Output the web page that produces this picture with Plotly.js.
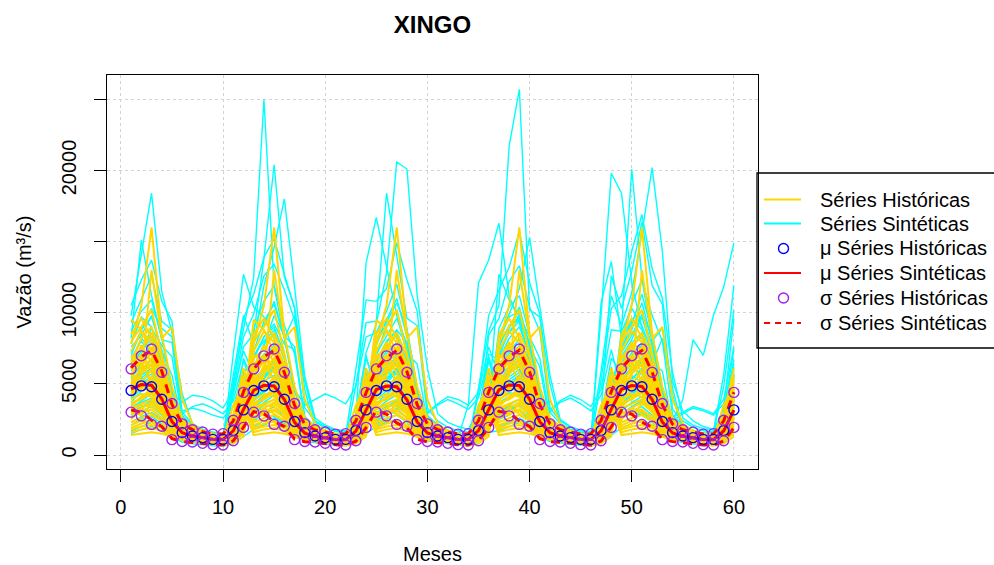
<!DOCTYPE html>
<html><head><meta charset="utf-8">
<script src="https://cdn.plot.ly/plotly-3.0.1.min.js"></script>
<style>body{margin:0;background:#fff}#chart{width:994px;height:565px}</style>
</head><body><div id="chart"></div>
<script>
// ---------------- DATA ----------------
const months = [1,2,3,4,5,6,7,8,9,10,11,12,13,14,15,16,17,18,19,20,21,22,23,24,25,26,27,28,29,30,
  31,32,33,34,35,36,37,38,39,40,41,42,43,44,45,46,47,48,49,50,51,52,53,54,55,56,57,58,59,60];
const xTicks = [0,10,20,30,40,50,60];
const yTicks = [0,5000,10000,15000,20000,25000];
const yTickText = ['0','5000','10000','','20000',''];

// historical record, one row per year (months 1..12); each gold trace = 5 consecutive years
const histYears = [
  [6500,8200,9000,6800,3600,2100,1700,1500,1300,1250,1900,4200],
  [4200,5100,6000,5200,3000,1900,1600,1400,1250,1200,1700,3300],
  [9500,8800,7200,5100,3100,2000,1650,1450,1300,1250,2100,5200],
  [3200,3500,3400,2900,1900,1400,1250,1100,1000,1000,1400,2500],
  [5600,6900,5800,4600,2700,1800,1500,1350,1200,1150,1800,3600],
  [2100,2400,2300,2000,1500,1200,1100,1000,950,900,1200,1900],
  [8500,9600,8200,6300,3800,2400,1900,1600,1400,1350,2800,6100],
  [3900,4300,4100,3300,2100,1500,1300,1200,1050,1050,1500,2800],
  [5200,4600,5500,4400,2500,1700,1450,1300,1150,1100,3500,4800],
  [1600,1800,1900,1700,1300,1100,1000,900,850,800,1000,1500],
  [7800,10500,16000,8500,4800,2600,2000,1700,1500,1400,2400,5600],
  [4700,6300,7600,5900,3400,2100,1700,1500,1300,1300,1600,3000],
  [3000,2800,3600,3100,2000,1500,1300,1150,1050,1000,1300,2200],
  [6100,7700,6500,4900,2900,1900,1550,1400,1250,1200,2000,4400],
  [2500,3300,2900,2400,1600,1300,1150,1050,950,950,1250,2000],
  [4400,5600,13000,8200,9000,3900,2200,1700,1450,1350,1700,3400],
  [1400,1500,1600,1500,1250,1050,950,850,700,650,800,1300],
  [5800,4900,4300,3500,2200,1600,1350,1250,1100,1100,1900,3900],
  [3600,4000,4700,3800,2300,1600,1400,1250,1100,1050,1350,2600],
  [7000,6600,5100,3700,2400,1700,1450,1300,1150,1150,2300,4600],
  [1800,2000,2100,1900,1400,1150,1050,950,850,850,1100,1600],
  [4900,5300,4800,3900,2300,1600,1350,1200,1100,1050,1600,3100],
  [2700,3000,3200,2600,1700,1300,1150,1050,950,900,1250,2300],
  [6800,7400,8600,6900,3900,2300,1800,1550,1350,1300,2200,5300],
  [3400,4100,4500,3700,2200,1500,1300,1150,1050,1000,1500,2900],
  [5300,5900,6800,5400,3100,1900,1550,1350,1200,1150,1900,3800],
  [2300,2600,2800,2400,1600,1250,1100,1000,900,880,1150,1800],
  [6000,6500,7100,5700,3300,2000,1600,1400,1250,1200,2100,4300],
  [4100,4800,5300,4200,2500,1650,1400,1250,1100,1100,1600,3200],
  [7300,8700,7900,6000,3500,2200,1750,1500,1350,1300,2500,5000],
  [3700,3900,4400,3400,2100,1500,1300,1150,1050,1000,1400,2700],
  [5000,6100,6300,4800,2800,1800,1500,1300,1150,1100,1800,3500],
  [1900,2200,2400,2100,1500,1200,1050,950,850,800,1050,1700],
  [6400,7000,6200,5300,3200,2000,1600,1400,1250,1200,2000,4000],
  [4400,5000,4600,3600,2200,1500,1250,1150,1050,1000,1500,3000],
  [8000,9000,10200,7100,4000,2300,1800,1550,1350,1300,2600,5400],
  [2900,3300,3700,3000,1900,1350,1150,1050,950,900,1200,2400],
  [5500,6600,7300,5600,3200,2000,1600,1400,1250,1200,1900,3700],
  [3300,3600,3900,3200,2000,1400,1200,1100,1000,950,1300,2600],
  [4800,5700,6400,5000,2900,1850,1500,1300,1150,1100,1700,3500],
  [2600,2900,3100,2700,1800,1300,1100,1000,900,870,1150,2100],
  [6700,7900,7300,5600,3300,2100,1700,1450,1300,1250,2200,4700],
  [3800,4600,5000,4100,2500,1650,1350,1200,1100,1050,1500,3000],
  [5400,5000,5900,4700,2800,1800,1450,1300,1150,1100,1800,3600]
];

// synthetic series, 60 months each
const synSeries = [
 [9800,14200,18400,11500,8600,4300,2200,1800,1600,1500,2600,6800, 5100,6200,5400,4100,2500,1600,1300,1150,1000,950,1500,3000,
  2500,2900,3300,2600,1700,1200,1000,900,820,800,1200,2100, 6800,8900,10400,7600,6200,2300,1800,1500,1300,1250,2100,4900,
  4300,5800,6500,4800,2800,1700,1400,1200,1050,1000,1700,3600],
 [5600,6400,5900,4400,2500,1600,1300,1100,1000,980,5200,8900, 12500,25000,11800,8200,9800,4600,1900,1600,1400,1300,2200,5600,
  4700,5200,6100,4600,2600,1600,1300,1150,1050,1000,1400,2800, 2900,3400,3100,2500,1600,1150,980,880,800,760,1000,1800,
  7200,9600,8800,6500,5900,2100,1700,1450,1300,1200,2400,5500],
 [2300,2700,3000,2500,1600,1150,1000,900,820,790,4100,7600, 8500,13800,20400,12500,10400,5200,2400,2000,1750,1650,2800,7200,
  9200,12800,20600,20100,11200,6100,2900,2300,2000,1800,3100,6600, 4400,5100,5600,4200,2500,1600,1300,1100,1000,950,1500,3300,
  3800,4600,5200,4000,2300,1500,1250,1100,1000,950,1600,3100],
 [7600,8400,9800,7300,5600,2200,1700,1450,1300,1250,2000,4500, 2000,2400,2600,2200,1500,1100,950,850,780,750,1050,1700,
  5300,6000,5200,3900,2300,1500,1250,1100,1000,950,4700,8700, 10500,21700,25700,10200,9700,5000,2200,1800,1600,1500,2600,6200,
  2600,3000,2800,2300,1500,1100,950,850,800,780,1150,2200],
 [4000,4900,5300,4300,2500,1550,1250,1100,1000,950,1500,3000, 6900,8300,9200,7800,7400,2400,1850,1550,1350,1300,2300,5200,
  2800,3100,2900,2400,1550,1150,980,880,810,780,1150,2400, 5000,5700,6300,4800,2700,1700,1400,1200,1100,1050,9800,19800,
  18400,12100,8900,6400,8200,4200,1700,1450,1300,1250,2000,4300],
 [1900,2200,2500,2100,1400,1050,900,820,760,730,1000,1600, 4900,5300,6800,5100,2900,1800,1450,1250,1100,1050,4900,9300,
  9400,18400,13900,9600,9100,2800,2100,1750,1550,1450,2600,6900, 4200,4800,5600,4400,2500,1600,1300,1150,1000,950,1400,2900,
  8800,20100,12400,8000,8900,4700,1850,1550,1350,1300,2200,5100],
 [8200,15100,11200,8100,7900,2500,1900,1600,1400,1350,2400,5800, 2400,2900,2700,2300,1500,1100,950,860,790,760,1100,2000,
  4600,5400,5900,4700,2700,1700,1400,1200,1100,1050,1800,3600, 12700,10900,9800,8300,6800,2600,2000,1700,1500,1400,5900,11200,
  9100,11400,15600,20200,14300,5200,3100,2400,2000,1800,2900,6200],
 [5200,5900,6700,5000,2900,1800,1450,1250,1100,1050,1700,3500, 4300,4700,5000,4000,2400,1550,1250,1100,1000,950,1500,3200,
  7000,9100,10200,7400,4000,2300,1800,1500,1350,1300,2100,4700, 2500,2800,3200,2700,1700,1200,1000,900,830,800,1150,2300,
  6300,7900,8600,6900,3900,2400,3900,8100,7000,9800,11800,14900],
 [6400,7300,8900,7700,6900,2600,2000,1650,1450,1400,5600,9800, 7800,11900,14600,18000,11800,5500,2600,2100,1800,1700,2700,13500,
  16700,13200,9800,7100,6400,2300,1800,1500,1350,1300,2100,4900, 4700,5900,6200,4600,2600,1650,1350,1150,1050,1000,1600,3300,
  2700,3100,3400,2800,1700,1200,1000,900,830,800,1200,2500],
 [3700,4500,4900,3900,2300,1500,1250,1100,1000,950,7100,12700, 10400,9700,8100,6100,3400,2000,1600,1350,1200,1150,1800,3900,
  5400,6600,7000,5300,3000,1800,1450,1250,1100,1050,1700,3400, 8300,9900,11700,15300,10400,5600,2500,2000,1750,1650,2600,5900,
  4800,5600,5100,4000,2400,1550,1300,1150,1050,1000,1900,4400],
 [1700,2000,2300,1900,1300,1000,880,800,740,700,900,1500, 6000,7700,9800,8400,7600,2600,2000,1650,1450,1400,2300,5000,
  4900,5300,5700,4700,2800,1800,1500,1300,1150,1100,1500,3100, 3900,4400,4200,3500,2100,1400,1150,1000,950,900,5300,10300,
  11200,14300,16900,13100,11000,5800,2600,2100,1850,1750,3200,9600],
 [6600,8200,7400,6200,4300,3700,4200,4100,3800,3300,4500,7300, 5700,6600,7200,5600,3200,1900,1550,1300,1150,1100,1800,4100,
  2200,2500,2800,2300,1450,1100,950,860,790,770,1050,1900, 7400,8600,9400,6600,3600,2100,1700,1450,1300,1250,2300,5400,
  5200,6100,6900,5700,3300,2000,1600,1350,1200,1150,1700,3800],
 [4600,5200,5700,4500,2600,1600,1300,1150,1050,1000,1600,3400, 6200,7800,8500,6800,4600,3500,3900,4300,4000,3600,4800,8300,
  8600,10100,12000,8800,4600,2600,2000,1650,1450,1400,2600,6000, 2000,2300,2600,2200,1400,1050,920,830,770,740,1000,1700,
  3500,4200,4900,3900,2300,1500,1250,1100,1000,960,1400,2800],
 [7000,8800,10300,8900,8300,2700,2000,1650,1450,1400,2200,4600, 3900,4500,5200,4100,2400,1550,1250,1100,1000,950,1600,3500,
  5400,6300,7500,6000,3800,3000,3600,4100,3900,3500,4400,7600, 5500,6800,7600,5800,3300,2000,1600,1350,1200,1150,2000,4500,
  2300,2600,3000,2500,1600,1150,980,880,810,780,1100,2000],
 [2800,3300,3600,2900,1800,1250,1050,930,850,820,4600,8300, 9900,12600,13400,11600,9500,5300,2300,1900,1650,1550,2700,7000,
  4100,4700,5300,4300,2500,1600,1300,1150,1050,1000,1400,2700, 5900,6900,7700,6100,3900,3200,3800,4200,3900,3400,4600,8800,
  8700,10300,9100,7100,4000,2300,1800,1500,1350,1300,2200,5600],
 [5000,5500,4800,3800,2200,1450,1200,1050,950,920,1500,3300, 4800,5800,6200,4900,2800,1750,1400,1200,1100,1050,1700,3600,
  5800,7100,7900,6100,3400,2000,1600,1350,1200,3500,12100,13700, 16300,11200,9300,7000,3900,2300,1800,1500,1350,1300,2100,4800,
  4400,5000,5800,4500,2600,1650,1350,1150,1050,1000,1800,4000],
 [9300,10900,12600,9400,8800,2800,2100,1750,1550,1450,2500,5700, 2600,3000,3400,2700,1700,1200,1000,900,830,800,1200,2300,
  6500,8000,8800,7900,4400,2500,1900,1600,1400,1350,2000,4600, 4600,5100,4900,3700,2200,1450,1200,1050,950,920,1500,3800,
  7800,9200,11300,8600,4700,2600,2000,1650,1450,1400,2600,6700],
 [3300,3800,4300,3500,2100,1400,1150,1000,930,900,1300,2500, 8900,10800,11900,9100,7100,2700,2000,1700,1500,1400,6000,10900,
  10800,11700,14900,12300,10100,3300,2400,1950,1700,1600,2800,7100, 6700,8200,9000,7200,4000,2300,1800,1500,1350,1300,2200,5000,
  5600,6400,7300,5900,3300,2000,1600,1350,1200,1150,1800,3900],
 [10500,12300,13700,10800,9400,3000,2200,1800,1600,1500,2400,5400, 5300,6100,6600,5100,2900,1800,1450,1250,1100,1050,1900,4400,
  3000,3400,3800,3100,1900,1300,1100,960,880,850,4300,9800, 11600,13200,15700,12100,9900,3300,2400,1950,1700,1600,3000,12600,
  10300,12900,16400,11900,10600,3200,2400,1950,1700,1600,2900,7400],
 [2100,2500,2700,2200,1450,1050,920,840,780,750,1050,1800, 7300,9400,10600,8200,4500,2500,1900,1600,1400,1350,2400,5500,
  4400,5000,5900,4800,2800,1750,1400,1200,1100,1050,1700,3700, 8000,9700,10100,7500,4100,2300,1800,1500,1350,1300,2200,5300,
  6900,8100,9700,7300,4000,2300,1800,1500,1400,1600,4800,10200],
 [4200,5000,5500,4300,2500,1600,1300,1150,1050,1000,1500,3200, 4500,5400,6100,4700,2700,1700,1400,1200,1100,1050,1800,4000,
  7700,9500,11000,8300,4500,2500,1900,1600,1400,1350,2300,5300, 5200,6200,6700,5200,3000,1850,1500,1300,1150,1100,1700,3700,
  7600,8800,10700,8000,4400,2500,1900,1600,1500,1700,5600,11900],
 [6200,7600,8300,6500,3700,2100,1650,1400,1250,1200,1900,4100, 3600,4200,4600,3600,2100,1350,1100,950,880,840,1200,2400,
  5100,5800,6500,5000,2900,1800,1450,1250,1100,1050,1900,8400, 9600,12200,13300,10400,8700,3000,2200,1800,1600,1500,2700,6800,
  5800,7000,7700,6000,3400,2000,1600,1350,1200,1150,1900,4200],
 [1500,1800,2000,1700,1200,900,780,700,640,620,800,1300, 1800,2100,2400,2000,1300,980,850,760,700,670,900,1500,
  2000,2300,2500,2100,1400,1000,870,780,720,690,950,1600, 1700,2000,2300,1900,1300,950,830,750,690,660,880,1400,
  1900,2200,2500,2100,1400,1000,860,770,710,680,920,1600],
 [5900,6800,7300,5500,3100,1900,1500,1300,1150,1100,4800,9600, 11300,13900,15200,12700,10300,3300,2400,1950,1700,1600,2700,6800,
  4800,5600,6400,5100,2900,1800,1450,1250,1100,1050,1700,3600, 5100,5500,6000,4700,2700,1700,1400,1200,1100,1050,10700,13600,
  8200,10600,12300,9800,8000,2800,2100,1750,1550,1450,2300,5200],
 [6100,7400,8100,6300,3500,2100,1700,1450,1300,1250,2100,4600, 3300,3900,4400,3500,2100,1400,1150,1000,930,900,1300,2500,
  7100,8400,9600,7800,4400,2600,2000,1700,1500,1400,2400,5200, 4100,4900,5500,4400,2600,1650,1350,1200,1100,1050,1600,3300,
  6600,7700,8300,6800,3800,2200,1800,1500,1350,1300,2100,4800],
 [3900,4700,5100,4100,2400,1550,1300,1150,1050,1000,1500,3100, 7900,9100,10800,8300,4600,2600,2000,1650,1450,1400,2500,5800,
  3600,4300,4800,3800,2200,1450,1200,1050,970,940,1400,2900, 8900,10400,11200,8400,4600,2600,2000,1700,1500,1450,2600,6000,
  3100,3700,4100,3300,2000,1350,1150,1000,920,900,1300,2600],
 [5600,6700,7900,6400,4100,3100,3300,3100,2800,2600,3400,5900, 6300,7100,7600,6000,3400,2000,1600,1400,1250,1200,2000,4700,
  5000,5900,6700,5300,3100,1900,1500,1300,1150,1100,1800,3900, 2800,3300,3700,3000,1900,1300,1100,980,900,870,1200,2300,
  5300,6200,5700,4500,2700,1700,1400,1200,1100,1050,1600,3400],
 [7800,9700,9000,6900,3800,2200,1750,1500,1350,1300,2300,5100, 5000,5700,6300,5200,3000,1850,1500,1300,1150,1100,1900,4200,
  2600,3000,3500,2900,1800,1250,1050,950,870,840,1200,2300, 6300,7100,8200,6500,3700,3000,3700,4000,3600,3100,4200,7400,
  4500,5300,6100,4900,2800,1750,1450,1250,1100,1050,1800,4100],
 [4300,5600,6100,5000,2900,1800,1450,1250,1100,1050,1700,3700, 4000,4600,5400,4300,2500,1600,1300,1150,1050,1000,1600,3500,
  6900,7600,8400,6600,3700,2200,1700,1450,1300,1250,2200,5000, 7100,8600,9800,7900,4400,2500,1900,1600,1400,1350,2400,5600,
  3400,4000,4600,3700,2200,1450,1200,1050,960,930,1500,3300],
 [2600,3100,3400,2800,1800,1250,1050,950,870,840,1200,2400, 5900,7000,7400,5700,3300,2000,1600,1400,1250,1200,2100,4900,
  8200,9300,10700,8900,4800,2700,2000,1700,1500,1450,2500,5900, 3700,4100,4700,3700,2200,1450,1200,1050,970,940,1400,2800,
  7200,8400,9900,7700,4300,2500,1900,1600,1400,1350,2300,5700],
 [6800,8000,7100,5400,3100,1900,1550,1350,1200,1150,1900,4300, 2900,3500,3900,3200,2000,1350,1150,1000,920,890,1300,2600,
  4500,5400,6100,4900,2900,1800,1500,1300,1150,1100,1900,4100, 5800,6500,7300,5500,3200,2000,1600,1400,1250,1200,2100,4600,
  4000,4500,5100,4200,2500,1600,1300,1150,1050,1000,1600,3300],
 [3200,3700,4000,3300,2000,1350,1150,1000,930,900,1300,2600, 6700,8300,9000,7100,3900,2300,1800,1500,1350,1300,2200,5100,
  5100,6200,6900,5500,3200,1950,1550,1350,1200,1150,1700,3600, 4200,4700,5200,4100,2400,1550,1300,1150,1050,1000,1500,3100,
  8100,9500,10100,8200,4500,2600,2000,1650,1450,1400,2500,5900],
 [4900,5800,6300,5100,3600,2900,3400,3600,3300,2900,3800,6600, 4700,5600,6200,4900,2800,1750,1450,1250,1100,1050,1800,4000,
  3200,3800,4200,3400,2100,1400,1150,1000,930,900,1300,2700, 5000,5800,6700,5300,3100,1900,1550,1350,1200,1150,1800,3900,
  6000,7200,7700,6300,3600,2400,2900,3300,3100,2800,3600,6400],
 [8700,10100,10900,8200,4500,2500,1900,1600,1400,1350,2300,5400, 3800,4400,4900,3900,2300,1500,1250,1100,1000,960,1500,3200,
  6200,7300,7800,6200,3500,2100,1700,1450,1300,1250,2100,4700, 3000,3500,3900,3200,2000,1350,1150,1000,920,890,1300,2600,
  5100,6000,6600,5300,3000,1850,1500,1300,1150,1100,1800,4000],
 [5400,6300,7200,5800,3300,2000,1600,1400,1250,1200,1800,3900, 4400,5200,5600,4500,2600,1650,1350,1200,1100,1050,1600,3400,
  2400,2800,3100,2600,1700,1200,1000,910,840,810,1150,2200, 7600,9100,9700,7400,4200,2400,1850,1550,1400,1350,2400,5500,
  6200,7000,7900,6200,3500,2100,1700,1450,1300,1250,2000,4500],
 [3500,4100,4600,3700,2200,1450,1200,1050,970,940,1400,2900, 3600,4100,4600,3700,2200,1450,1200,1050,970,940,1500,3300,
  6600,7900,8700,6800,3800,2200,1750,1500,1350,1300,2200,4900, 6400,7300,8100,6400,3600,2100,1700,1450,1300,1250,2100,4900,
  3800,4400,5300,4300,2500,1600,1300,1150,1050,1000,1500,3100],
 [7200,8800,9700,7400,4100,2300,1800,1550,1350,1300,2400,5300, 5500,6700,7800,6100,3400,2000,1600,1400,1250,1200,2000,4600,
  4200,4800,5500,4400,2600,1650,1350,1200,1100,1050,1600,3200, 2700,3200,3500,2800,1800,1250,1050,950,870,840,1200,2500,
  5700,6800,7200,5800,3300,2000,1600,1400,1250,1200,1900,4100],
 [4700,5400,6000,4800,2800,1750,1400,1250,1100,1050,1700,3500, 7000,8000,8800,6700,3700,2200,1750,1500,1350,1300,2300,5300,
  3900,4500,5000,4000,2400,1550,1250,1100,1000,970,1500,3000, 5600,6200,7000,5400,3100,1950,1550,1350,1200,1150,1900,4200,
  2900,3400,3800,3100,1900,1300,1100,980,900,870,1250,2500],
 [3000,3400,3800,3100,1900,1300,1100,980,900,870,1300,2700, 4900,5500,6500,5200,3000,1850,1500,1300,1150,1100,1800,4300,
  5700,6500,7300,5800,3700,2900,3500,3900,3600,3200,4000,6900, 4600,5300,5800,4600,2700,1700,1400,1200,1100,1050,1700,3600,
  4400,5400,6000,4800,3300,2700,3000,3400,3200,2900,3900,7600],
 [6400,7100,8600,6700,3700,2200,1750,1500,1350,1300,2100,4700, 3100,3700,4200,3400,2100,1400,1150,1000,930,900,1300,2700,
  5300,6000,6300,5100,2900,1800,1450,1250,1100,1050,1800,3900, 7800,9000,9500,7600,4200,2400,1850,1550,1400,1350,2300,5300,
  3600,4300,4800,3900,2300,1500,1250,1100,1000,970,1600,3600]
];

// monthly statistics
const histMean = [4530,4860,4800,3920,2350,1570,1340,1220,1100,1100,1720,3170,
  4530,4860,4800,3920,2350,1570,1340,1220,1100,1100,1720,3170,
  4530,4860,4800,3920,2350,1570,1340,1220,1100,1100,1720,3170,
  4530,4860,4800,3920,2350,1570,1340,1220,1100,1100,1720,3170,
  4530,4860,4800,3920,2350,1570,1340,1220,1100,1100,1720,3170];
const histSd = [1520,2110,2650,1900,1270,620,430,400,370,400,720,1230,
  1520,2110,2650,1900,1270,620,430,400,370,400,720,1230,
  1520,2110,2650,1900,1270,620,430,400,370,400,720,1230,
  1520,2110,2650,1900,1270,620,430,400,370,400,720,1230,
  1520,2110,2650,1900,1270,620,430,400,370,400,720,1230];
const synMean = [4650,4950,4900,3950,2350,1560,1330,1210,1100,1090,1700,3200,
  4550,4900,4850,3900,2300,1540,1320,1200,1090,1080,1680,3150,
  4600,4850,4800,3880,2320,1550,1330,1210,1100,1090,1710,3180,
  4580,4920,4880,3930,2340,1560,1340,1220,1100,1090,1700,3220,
  4620,4880,4820,3900,2310,1550,1320,1200,1090,1080,1690,3160];
const synSd = [1480,1950,2450,1950,1200,620,450,400,380,390,700,1250,
  1500,2000,2500,1900,1180,610,440,410,370,400,710,1230,
  1470,1980,2550,1980,1220,630,450,400,380,390,690,1260,
  1510,1960,2480,1920,1190,620,440,400,370,400,720,1240,
  1490,2010,2520,1940,1210,610,450,410,380,390,700,1250];

const legendLabels = ['Séries Históricas','Séries Sintéticas','μ Séries Históricas',
  'μ Séries Sintéticas','σ Séries Históricas','σ Séries Sintéticas'];

// ---------------- CHART ----------------
const FONT = 'Liberation Sans, Arial, Helvetica, sans-serif';
const CYAN = '#00FFFF', GOLD = '#FFD700', BLUE = '#0000FF', PURPLE = '#A020F0', RED = '#FF0000';
const traces = [];
synSeries.forEach(s => traces.push({x: months, y: s, type: 'scatter', mode: 'lines',
  line: {color: CYAN, width: 1.4}, showlegend: false, hoverinfo: 'skip'}));
for (let k = 0; k + 5 <= histYears.length; k++) {
  const y = [].concat(...histYears.slice(k, k + 5));
  traces.push({x: months, y: y, type: 'scatter', mode: 'lines',
    line: {color: GOLD, width: 2}, showlegend: false, hoverinfo: 'skip'});
}
const synUp = synMean.map((m, i) => m + synSd[i]);
const synLo = synMean.map((m, i) => m - synSd[i]);
const histUp = histMean.map((m, i) => m + histSd[i]);
const histLo = histMean.map((m, i) => m - histSd[i]);
traces.push({x: months, y: synMean, mode: 'lines', line: {color: RED, width: 3}, showlegend: false});
[synUp, synLo].forEach(y => traces.push({x: months, y: y, mode: 'lines',
  line: {color: RED, width: 3, dash: '9px,7px'}, showlegend: false}));
traces.push({x: months, y: histMean, mode: 'markers',
  marker: {symbol: 'circle-open', size: 10, color: BLUE, line: {width: 1.4}}, showlegend: false});
[histUp, histLo].forEach(y => traces.push({x: months, y: y, mode: 'markers',
  marker: {symbol: 'circle-open', size: 10, color: PURPLE, line: {width: 1.4}}, showlegend: false}));

// manual legend (R style box)
const L = 107, T = 75, W = 651, H = 394;
const px = v => (v - L) / W, py = v => (T + H - v) / H;
const rowY = [199.5, 223.5, 248.5, 273, 298, 323];
const shapes = [{type: 'rect', xref: 'paper', yref: 'paper', x0: px(757), x1: px(1010), y0: py(348), y1: py(173),
  line: {color: '#000', width: 1.3}}];
const legLine = (y, color, dash) => ({type: 'line', xref: 'paper', yref: 'paper', x0: px(764), x1: px(801),
  y0: py(y), y1: py(y), line: {color: color, width: 2, dash: dash || 'solid'}});
const legCirc = (y, color) => ({type: 'circle', xref: 'paper', yref: 'paper', x0: px(778.5), x1: px(788.5),
  y0: py(y + 5), y1: py(y - 5), line: {color: color, width: 1.4}});
shapes.push(legLine(rowY[0], GOLD), legLine(rowY[1], CYAN), legCirc(rowY[2], BLUE),
  legLine(rowY[3], RED), legCirc(rowY[4], PURPLE), legLine(rowY[5], RED, '6px,5px'));
const annotations = legendLabels.map((t, i) => ({text: t, xref: 'paper', yref: 'paper', x: px(818), y: py(rowY[i]),
  xanchor: 'left', yanchor: 'middle', showarrow: false, font: {family: FONT, size: 20, color: '#000'}}));

const axisCommon = {showline: true, linecolor: '#000', linewidth: 1, mirror: true, ticks: 'outside', ticklen: 12,
  tickwidth: 1, tickcolor: '#000', showgrid: true, gridcolor: '#D3D3D3', griddash: 'dot', gridwidth: 1,
  zeroline: false, tickfont: {family: FONT, size: 20, color: '#000'}};

const layout = {
  width: 994, height: 565, paper_bgcolor: '#fff', plot_bgcolor: '#fff',
  margin: {l: L, r: 994 - L - W, t: T, b: 565 - T - H, autoexpand: false},
  font: {family: FONT, color: '#000'},
  title: {text: '<b>XINGO</b>', font: {family: FONT, size: 24, color: '#000'}, x: 0.5, xref: 'paper',
    y: 1 - 25 / 565, yref: 'container', yanchor: 'middle'},
  xaxis: Object.assign({}, axisCommon, {range: [-1.36, 62.36], tickvals: xTicks, ticklabelstandoff: 8,
    title: {text: 'Meses', font: {family: FONT, size: 20, color: '#000'}, standoff: 35}}),
  yaxis: Object.assign({}, axisCommon, {range: [-984, 26708], tickvals: yTicks, ticktext: yTickText,
    tickangle: -90, ticklabelstandoff: 10,
    title: {text: 'Vazão (m³/s)', font: {family: FONT, size: 20, color: '#000'}, standoff: 21}}),
  showlegend: false, shapes: shapes, annotations: annotations
};
Plotly.newPlot('chart', traces, layout, {staticPlot: true, displayModeBar: false});
</script></body></html>
